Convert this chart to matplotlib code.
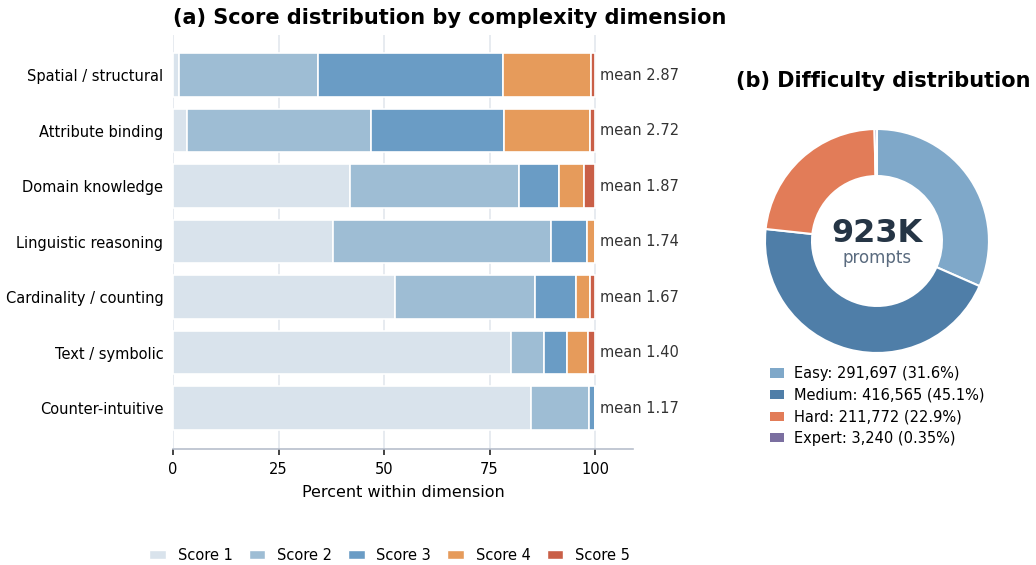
import numpy as np
import matplotlib.pyplot as plt
from matplotlib.patches import Patch

# Score shares (percent) per complexity dimension, top to bottom
dimensions = ["Spatial / structural", "Attribute binding", "Domain knowledge",
              "Linguistic reasoning", "Cardinality / counting", "Text / symbolic",
              "Counter-intuitive"]
score1 = [1.4, 3.2, 42.0, 38.0, 52.7, 80.0, 84.9]
score2 = [33.0, 43.6, 40.1, 51.5, 33.0, 8.0, 13.6]
score3 = [43.7, 31.7, 9.3, 8.7, 9.7, 5.3, 1.5]
score4 = [20.9, 20.4, 6.1, 1.8, 3.5, 5.0, 0.0]
score5 = [1.0, 1.1, 2.5, 0.0, 1.1, 1.7, 0.0]
means = [2.87, 2.72, 1.87, 1.74, 1.67, 1.40, 1.17]

score_names = ["Score 1", "Score 2", "Score 3", "Score 4", "Score 5"]
score_colors = ["#d9e3ec", "#9ebdd4", "#6a9cc5", "#e69b5b", "#c95f47"]

# Difficulty split
levels = ["Easy", "Medium", "Hard", "Expert"]
counts = [291697, 416565, 211772, 3240]
level_pcts = ["31.6%", "45.1%", "22.9%", "0.35%"]
level_colors = ["#7fa8c9", "#4f7ea8", "#e27c58", "#7b6fa0"]

fig = plt.figure(figsize=(10.36, 5.65), dpi=100)

# ---------------- (a) stacked bars ----------------
ax = fig.add_axes([0.167, 0.205, 0.444, 0.733])
y = np.arange(len(dimensions))
left = np.zeros(len(dimensions))
for vals, col in zip([score1, score2, score3, score4, score5], score_colors):
    ax.barh(y, vals, left=left, height=0.78, color=col, edgecolor="white",
            linewidth=1.2, zorder=2)
    left += np.array(vals)

for i, m in enumerate(means):
    ax.text(101.2, i, "mean {:.2f}".format(m), va="center", ha="left",
            fontsize=10.5, color="#333333")

ax.set_yticks(y)
ax.set_yticklabels(dimensions, fontsize=10.5)
ax.set_ylim(6.74, -0.72)
ax.set_xlim(0, 109)
ax.set_xticks([0, 25, 50, 75, 100])
ax.tick_params(axis="x", labelsize=10.5, length=4, width=1.2, color="#222222", pad=5)
ax.tick_params(axis="y", length=0, pad=7)
ax.grid(axis="x", color="#e3e7ee", linewidth=1.2, zorder=0)
ax.set_axisbelow(True)
for s in ["top", "right", "left"]:
    ax.spines[s].set_visible(False)
ax.spines["bottom"].set_color("#b8bfcc")
ax.spines["bottom"].set_linewidth(1.2)
ax.set_xlabel("Percent within dimension", fontsize=11.5, labelpad=6)
ax.set_title("(a) Score distribution by complexity dimension", fontsize=15,
             fontweight="bold", pad=8, loc="left")

handles = [Patch(facecolor=c, edgecolor="white") for c in score_colors]
fig.legend(handles, score_names, loc="center", bbox_to_anchor=(0.376, 0.017),
           ncol=5, frameon=False, fontsize=10.5, handlelength=1.15,
           handleheight=0.6, columnspacing=1.1)

# ---------------- (b) donut ----------------
ax2 = fig.add_axes([0.7384, 0.3752, 0.2162, 0.3965])
ax2.pie(counts, colors=level_colors, startangle=90, counterclock=False,
        wedgeprops=dict(width=0.42, edgecolor="white", linewidth=1.5))
ax2.set_xlim(-1, 1)
ax2.set_ylim(-1, 1)
ax2.set_aspect("equal")
ax2.text(0, 0.07, "923K", ha="center", va="center", fontsize=23,
         fontweight="bold", color="#253545")
ax2.text(0, -0.15, "prompts", ha="center", va="center", fontsize=12,
         color="#5a6b7f")
fig.text(0.853, 0.857, "(b) Difficulty distribution", ha="center", va="center",
         fontsize=15, fontweight="bold")

labels2 = ["{}: {:,} ({})".format(l, c, p) for l, c, p in zip(levels, counts, level_pcts)]
handles2 = [Patch(facecolor=c) for c in level_colors]
fig.legend(handles2, labels2, loc="upper left", bbox_to_anchor=(0.731, 0.375),
           frameon=False, fontsize=10.5, handlelength=0.9, handleheight=0.6,
           handletextpad=0.7, labelspacing=0.45)

plt.savefig("out.png", dpi=100)
